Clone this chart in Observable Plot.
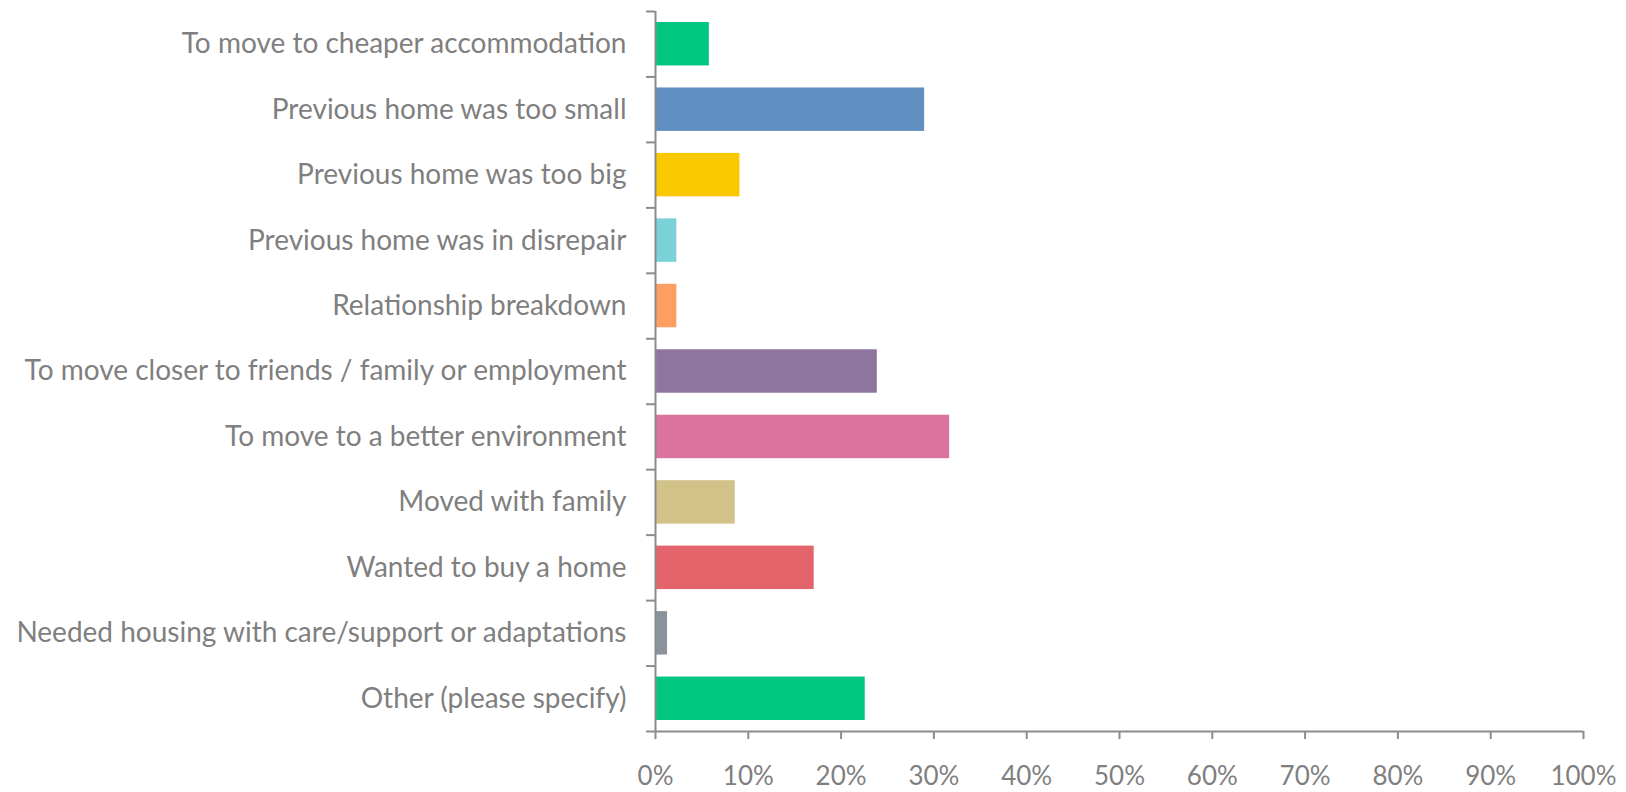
<!DOCTYPE html>
<html>
<head>
<meta charset="utf-8">
<script src="https://cdn.jsdelivr.net/npm/d3@7"></script>
<script src="https://cdn.jsdelivr.net/npm/@observablehq/plot@0.6"></script>
<style>
  html, body { margin: 0; padding: 0; background: #ffffff; }
  #chart svg { display: block; }
</style>
</head>
<body>
<div id="chart"></div>
<script>
const categories = [
  "To move to cheaper accommodation",
  "Previous home was too small",
  "Previous home was too big",
  "Previous home was in disrepair",
  "Relationship breakdown",
  "To move closer to friends / family or employment",
  "To move to a better environment",
  "Moved with family",
  "Wanted to buy a home",
  "Needed housing with care/support or adaptations",
  "Other (please specify)"
];
const values = [0.058, 0.290, 0.091, 0.023, 0.023, 0.239, 0.317, 0.086, 0.171, 0.013, 0.226];
const colors = ["#00C682", "#6090C2", "#FAC800", "#7AD1D8", "#FF9E63", "#8F74A0", "#DC739F", "#D2C28A", "#E3646B", "#8A939C", "#00C682"];
const xTicks = [0, 0.1, 0.2, 0.3, 0.4, 0.5, 0.6, 0.7, 0.8, 0.9, 1.0];

const data = categories.map((c, i) => ({category: c, index: i, value: values[i], color: colors[i]}));
const n = categories.length;
const boundaries = d3.range(0, n + 1);
const centers = d3.range(0, n).map(i => i + 0.5);

const axisColor = "#8c8c8c";
const textColor = "#7f7f7f";

const chart = Plot.plot({
  width: 1626,
  height: 792,
  marginLeft: 655,
  marginRight: 43,
  marginTop: 11,
  marginBottom: 61,
  style: {fontFamily: "Lato, 'Open Sans', sans-serif", fontSize: "25px", color: textColor, background: "#ffffff"},
  x: {domain: [0, 1], label: null},
  y: {domain: [0, n], reverse: true, label: null},
  marks: [
    Plot.rectX(data, {
      x1: 0, x2: "value", y1: "index", y2: d => d.index + 1,
      fill: "color", insetTop: 11, insetBottom: 11
    }),
    Plot.ruleX([0], {stroke: axisColor, strokeWidth: 2}),
    Plot.ruleY([n], {stroke: axisColor, strokeWidth: 2}),
    Plot.axisY({ticks: boundaries, tickSize: 9, tickFormat: () => "", stroke: axisColor, strokeWidth: 2, label: null}),
    Plot.axisY({ticks: centers, tickSize: 0, tickPadding: 29, tickFormat: v => categories[Math.floor(v)], fill: textColor, fontSize: 28, label: null}),
    Plot.axisX({ticks: xTicks, tickSize: 8, tickPadding: 27, tickFormat: d3.format(".0%"), stroke: axisColor, strokeWidth: 2, fill: textColor, fontSize: 26, label: null})
  ]
});
document.getElementById("chart").appendChild(chart);
</script>
</body>
</html>
